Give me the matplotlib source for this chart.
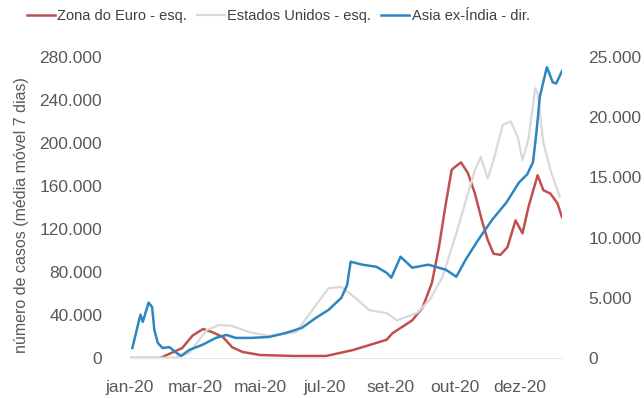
import pandas as pd
import matplotlib
matplotlib.use('Agg')
import matplotlib.pyplot as plt
from matplotlib import font_manager

# --- data (7-day moving average of new cases) ---
euro_dates = ['2020-01-22', '2020-02-17', '2020-03-07', '2020-03-16', '2020-03-25',
              '2020-04-02', '2020-04-11', '2020-04-19', '2020-04-28', '2020-05-13',
              '2020-06-10', '2020-07-09', '2020-08-01', '2020-08-18', '2020-08-30',
              '2020-09-04', '2020-09-21', '2020-09-30', '2020-10-08', '2020-10-14',
              '2020-10-20', '2020-10-25', '2020-10-27', '2020-11-02', '2020-11-08',
              '2020-11-14', '2020-11-20', '2020-11-25', '2020-11-30', '2020-12-06',
              '2020-12-12', '2020-12-19', '2020-12-25', '2020-12-30', '2021-01-07',
              '2021-01-12', '2021-01-18', '2021-01-24', '2021-01-28']
euro_cases = [0, 0, 9300, 21000, 27000,
              24000, 19500, 10000, 5600, 2800,
              1900, 1900, 7400, 13000, 17000,
              23000, 35000, 47000, 70000, 103000,
              144000, 175000, 177000, 182000, 172000,
              153000, 128000, 110000, 97000, 96000,
              103000, 128000, 116000, 140000, 170000,
              156000, 153000, 144000, 131000]

us_dates = ['2020-01-22', '2020-03-01', '2020-03-13', '2020-03-28', '2020-04-08',
            '2020-04-19', '2020-05-04', '2020-05-21', '2020-06-13', '2020-06-30',
            '2020-07-11', '2020-07-22', '2020-08-03', '2020-08-15', '2020-08-30',
            '2020-09-08', '2020-09-25', '2020-10-06', '2020-10-17', '2020-10-29',
            '2020-11-08', '2020-11-14', '2020-11-19', '2020-11-25', '2020-11-30',
            '2020-12-08', '2020-12-15', '2020-12-21', '2020-12-25', '2020-12-30',
            '2021-01-05', '2021-01-07', '2021-01-12', '2021-01-18', '2021-01-26']
us_cases = [0, 300, 4600, 26000, 30700,
            29800, 24000, 20500, 24000, 49000,
            65000, 66000, 56000, 44600, 41800,
            35000, 41800, 54000, 75000, 116000,
            153000, 175000, 187000, 167000, 184000,
            217000, 220000, 205000, 184000, 203000,
            251000, 246000, 200000, 175000, 150000]

asia_dates = ['2020-01-24', '2020-01-31', '2020-02-02', '2020-02-07', '2020-02-10',
              '2020-02-12', '2020-02-15', '2020-02-19', '2020-02-25', '2020-03-02',
              '2020-03-06', '2020-03-13', '2020-03-24', '2020-04-05', '2020-04-14',
              '2020-04-22', '2020-05-06', '2020-05-21', '2020-06-04', '2020-06-18',
              '2020-06-30', '2020-07-11', '2020-07-22', '2020-07-27', '2020-07-30',
              '2020-08-09', '2020-08-21', '2020-08-30', '2020-09-03', '2020-09-11',
              '2020-09-21', '2020-10-05', '2020-10-20', '2020-10-29', '2020-11-06',
              '2020-11-17', '2020-11-29', '2020-12-11', '2020-12-22', '2020-12-29',
              '2021-01-03', '2021-01-06', '2021-01-09', '2021-01-15', '2021-01-20',
              '2021-01-23', '2021-01-28']
asia_cases = [830, 3600, 3000, 4600, 4250,
              2300, 1250, 830, 900, 420,
              170, 670, 1080, 1670, 1920,
              1670, 1670, 1750, 2080, 2500,
              3330, 4000, 5000, 6080, 8000,
              7750, 7580, 7080, 6670, 8410,
              7500, 7750, 7330, 6750, 8160,
              9830, 11500, 12900, 14580, 15250,
              16250, 18750, 21750, 24160, 22900,
              22800, 23830]

tick_dates = ['2020-01-22', '2020-03-18', '2020-05-13', '2020-07-08',
              '2020-09-02', '2020-10-28', '2020-12-23']
tick_labels = ['jan-20', 'mar-20', 'mai-20', 'jul-20', 'set-20', 'out-20', 'dez-20']
left_ticks = [0, 40000, 80000, 120000, 160000, 200000, 240000, 280000]
right_ticks = [0, 5000, 10000, 15000, 20000, 25000]


def fmt(v):
    return f'{v:,}'.replace(',', '.')


names = {f.name for f in font_manager.fontManager.ttflist}
base_font = 'Liberation Sans' if 'Liberation Sans' in names else 'DejaVu Sans'
narrow_font = 'Liberation Sans Narrow' if 'Liberation Sans Narrow' in names else base_font
legend_size = 12 if narrow_font != base_font else 10.5
plt.rcParams['font.family'] = [base_font, 'DejaVu Sans']

text_col = '#595959'
red = '#C0504D'
grey = '#D9D9D9'
blue = '#2E86C1'

fig = plt.figure(figsize=(6.44, 3.98), dpi=100)
ax = fig.add_axes([130 / 644, 40 / 398, 432 / 644, 301 / 398])
ax2 = ax.twinx()

l1, = ax.plot(pd.to_datetime(euro_dates), euro_cases, color=red, lw=1.8,
              label='Zona do Euro - esq.')
l2, = ax.plot(pd.to_datetime(us_dates), us_cases, color=grey, lw=1.6,
              label='Estados Unidos - esq.')
l3, = ax2.plot(pd.to_datetime(asia_dates), asia_cases, color=blue, lw=1.8,
               label='Asia ex-Índia - dir.')

ax.set_xlim(pd.Timestamp('2020-01-22'), pd.Timestamp('2021-01-28'))
ax.set_ylim(0, 280000)
ax2.set_ylim(0, 25000)

ax.set_xticks(pd.to_datetime(tick_dates))
ax.set_xticklabels(tick_labels)
ax.set_yticks(left_ticks)
ax.set_yticklabels([fmt(v) for v in left_ticks])
ax2.set_yticks(right_ticks)
ax2.set_yticklabels([fmt(v) for v in right_ticks])

ax.tick_params(axis='x', length=0, pad=16, labelsize=12.5, labelcolor=text_col)
ax.tick_params(axis='y', length=0, pad=20, labelsize=12.5, labelcolor=text_col)
ax2.tick_params(axis='y', length=0, pad=19, labelsize=12.5, labelcolor=text_col)

for a in (ax, ax2):
    for side in ('top', 'left', 'right', 'bottom'):
        a.spines[side].set_visible(False)
ax.spines['bottom'].set_visible(True)
ax.spines['bottom'].set_color('#E6E6E6')
ax.spines['bottom'].set_linewidth(0.8)

fig.text(22 / 644, 1 - 215 / 398, 'número de casos (média móvel 7 dias)',
         rotation=90, ha='center', va='center', fontsize=11.5, color=text_col)

fig.legend(handles=[l1, l2, l3], loc='center left', ncol=3, frameon=False,
           bbox_to_anchor=(27 / 644, 1 - 16 / 398), borderaxespad=0, borderpad=0,
           handlelength=28 / (legend_size * 100 / 72), handletextpad=0.15,
           columnspacing=0.7, prop={'family': narrow_font, 'size': legend_size},
           labelcolor='#404040')

fig.savefig('out.png', dpi=100)
